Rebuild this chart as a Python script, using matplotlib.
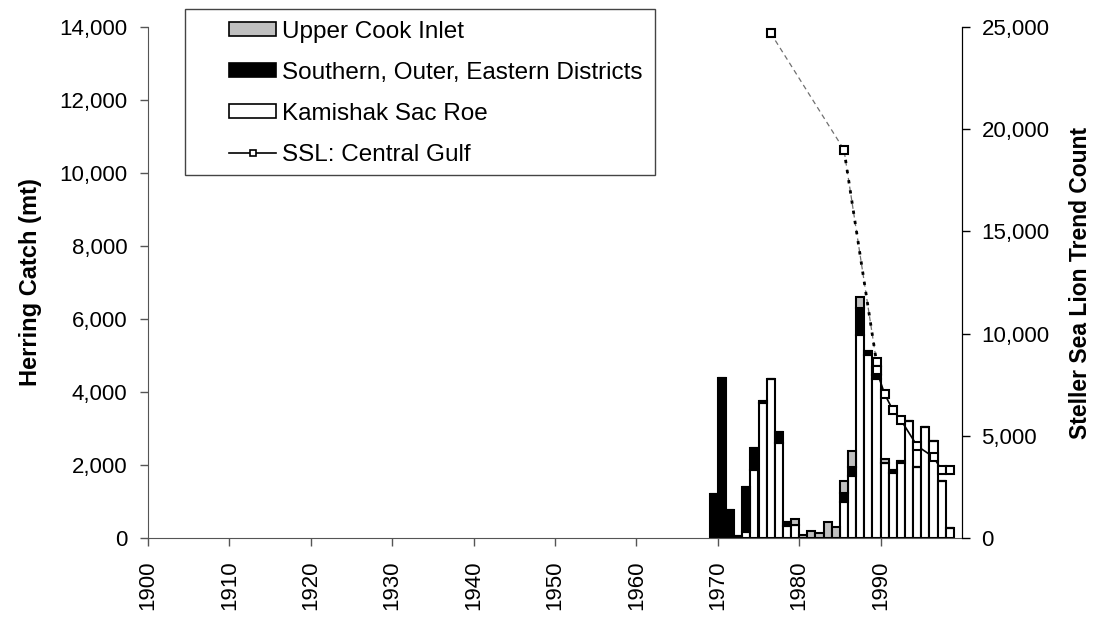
import matplotlib
matplotlib.use("Agg")
import matplotlib.pyplot as plt
import numpy as np
from matplotlib.ticker import FuncFormatter
from matplotlib.patches import Patch, Rectangle
from matplotlib.lines import Line2D

plt.rcParams['font.family'] = ['Liberation Sans', 'DejaVu Sans']

# herring catch by year (mt)
years = list(range(1969, 1999))
kamishak = [0, 0, 0, 0, 160, 1860, 3700, 4350, 2600, 330,
            360, 0, 0, 0, 0, 0, 990, 1700, 5560, 5010,
            4350, 2050, 1780, 2050, 3200, 1950, 3040, 2660, 1560, 270]
southern = [1200, 4380, 770, 50, 1240, 600, 60, 0, 300, 110,
            0, 0, 0, 0, 0, 0, 250, 245, 740, 110,
            110, 0, 80, 60, 0, 0, 0, 0, 0, 0]
upper_cook = [0, 0, 0, 0, 0, 0, 0, 0, 0, 0,
              160, 90, 190, 140, 440, 300, 320, 440, 300, 0,
              220, 110, 0, 0, 0, 0, 0, 0, 0, 0]

# steller sea lion trend counts, central gulf
ssl_gap_years = [1976, 1985, 1989]
ssl_gap_counts = [24700, 19000, 8600]
ssl_years = [1989, 1990, 1991, 1992, 1994, 1996, 1997, 1998]
ssl_counts = [8200, 7040, 6260, 5770, 4500, 3960, 3325, 3325]

decades = list(range(1900, 2000, 10))

W, H = 1097, 619
fig = plt.figure(figsize=(W / 100, H / 100), dpi=100)
ax = fig.add_axes([148 / W, 1 - 538 / H, (962 - 148) / W, (538 - 27) / H])
ax2 = ax.twinx()

yrs = np.array(years)
k = np.array(kamishak)
s = np.array(southern)
u = np.array(upper_cook)
bar_kw = dict(width=1.0, align='edge', edgecolor='black', linewidth=1.5)
ax.bar(yrs, k, color='white', **bar_kw)
ax.bar(yrs, s, bottom=k, color='black', **bar_kw)
ax.bar(yrs, u, bottom=k + s, color='#c0c0c0', **bar_kw)

# line points sit at the middle of each year
gx = np.array(ssl_gap_years) + 0.5
sx = np.array(ssl_years) + 0.5
ax2.plot(gx, ssl_gap_counts, color='#707070', lw=0.9, ls=(0, (4, 3)))
ax2.plot(gx[1:], ssl_gap_counts[1:], color='black', lw=2, ls=(0, (1.2, 2.5)))
ax2.plot(gx, ssl_gap_counts, ls='none', marker='s', ms=5.5,
         mfc='white', mec='black', mew=1.5)
ax2.plot(sx, ssl_counts, color='black', lw=1.2, marker='s', ms=5.5,
         mfc='white', mec='black', mew=1.5)

ax.set_xlim(1900, 2000)
ax.set_ylim(0, 14000)
ax2.set_ylim(0, 25000)
ax.set_yticks(range(0, 14001, 2000))
ax2.set_yticks(range(0, 25001, 5000))
comma = FuncFormatter(lambda v, p: f"{int(v):,}")
ax.yaxis.set_major_formatter(comma)
ax2.yaxis.set_major_formatter(comma)
ax.set_xticks(decades)
ax.set_xticklabels([str(d) for d in decades], rotation=90)

for a in (ax, ax2):
    a.tick_params(labelsize=16, length=6, direction='out', width=1)
    a.spines['top'].set_visible(False)
ax.spines['left'].set_color('#555555')
ax.spines['bottom'].set_color('#555555')
ax2.spines['left'].set_visible(False)
ax2.spines['bottom'].set_visible(False)
ax2.spines['right'].set_color('black')
ax.tick_params(axis='x', pad=10, colors='#555555', labelcolor='black')
ax.tick_params(axis='y', pad=9, colors='#555555', labelcolor='black')
ax2.tick_params(axis='y', pad=8)

ax.set_ylabel('Herring Catch (mt)', fontsize=17, fontweight='bold', labelpad=12)
ax2.set_ylabel('Steller Sea Lion Trend Count', fontsize=16.5,
               fontweight='bold', labelpad=14)

handles = [
    Patch(facecolor='#c0c0c0', edgecolor='black', lw=1.2),
    Patch(facecolor='black', edgecolor='black', lw=1.2),
    Patch(facecolor='white', edgecolor='black', lw=1.2),
    Line2D([], [], color='black', lw=1.2, marker='s', ms=4,
           mfc='white', mec='black', mew=1.2),
]
labels = ['Upper Cook Inlet', 'Southern, Outer, Eastern Districts',
          'Kamishak Sac Roe', 'SSL: Central Gulf']
leg = ax2.legend(handles, labels, loc='upper left',
                 bbox_to_anchor=(229 / W, 1 - 21 / H),
                 bbox_transform=fig.transFigure, fontsize=17.5,
                 frameon=False, handlelength=1.95, handleheight=0.5,
                 handletextpad=0.25, labelspacing=0.78, borderpad=0,
                 borderaxespad=0)
leg.set_zorder(6)

# Excel-style legend box with a wide left margin, drawn under the legend
fig.canvas.draw()
bb = leg.get_window_extent()
right = bb.x1 + 12
frame = Rectangle((185 / W, 1 - 175 / H), (right - 185) / W, (175 - 9) / H,
                  transform=fig.transFigure, facecolor='white',
                  edgecolor='#444444', lw=1, zorder=5, clip_on=False)
ax2.add_patch(frame)

fig.savefig('out.png', dpi=100)
